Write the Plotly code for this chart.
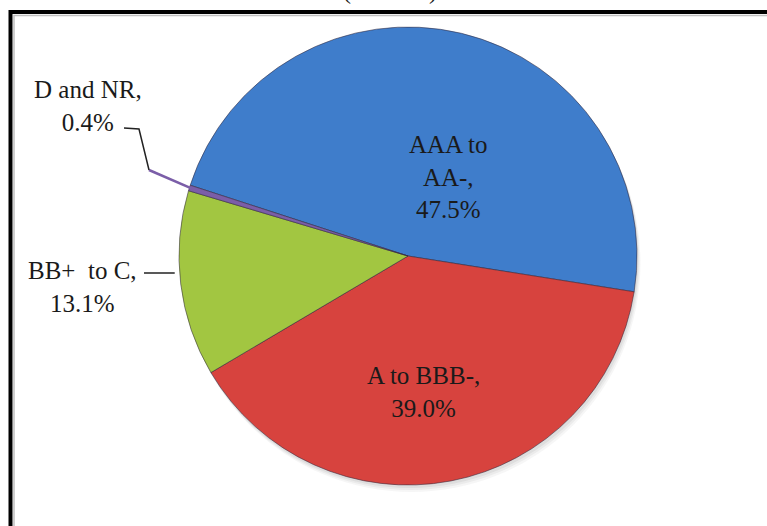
import math
import plotly.graph_objects as go

# ---- data ----
labels = ["AAA to AA-", "A to BBB-", "BB+ to C", "D and NR"]
display_labels = ["AAA to<br>AA-,", "A to BBB-,", "BB+\u00a0 to C,", "D and NR,"]
values = [47.5, 39.0, 13.1, 0.4]
colors = ["#3F7DCB", "#D7433E", "#A2C641", "#7B5EA8"]
title_text = "(Per cent)"

# ---- geometry (pixels) ----
W, H = 767, 526
cx, cy, R = 408, 256, 229
rotation = -72  # degrees clockwise from 12 o'clock


def px(x):
    return x / W


def py(y):
    return 1 - y / H


fig = go.Figure()

fig.add_trace(go.Pie(
    labels=labels,
    values=values,
    sort=False,
    direction="clockwise",
    rotation=rotation,
    marker=dict(colors=colors, line=dict(color="rgba(50,40,60,0.55)", width=1)),
    textinfo="none",
    hoverinfo="label+percent",
    showlegend=False,
    domain=dict(x=[px(cx - R), px(cx + R)], y=[py(cy + R), py(cy - R)]),
))

font = dict(family="Liberation Serif", size=25, color="#1a1a1a")
texts = [f"{d}<br>{v:.1f}%" for d, v in zip(display_labels, values)]

# label positions (pixels)
label_pos = [(448, 177), (423, 392), (82, 287), (88, 106)]
annotations = []
for t, (x, y) in zip(texts, label_pos):
    annotations.append(dict(x=px(x), y=py(y), xref="paper", yref="paper", text=t,
                            showarrow=False, font=font, align="center",
                            xanchor="center", yanchor="middle"))

annotations.append(dict(x=px(390), y=py(6), xref="paper", yref="paper", text=title_text,
                        showarrow=False, xanchor="center", yanchor="bottom",
                        font=dict(family="Liberation Serif", size=24, color="#1a1a1a")))

# slice mid-angles for leaders (computed from data)
total = sum(values)
start = 90 - rotation  # math degrees
mids = []
a = start
for v in values:
    span = 360 * v / total
    mids.append(a - span / 2)
    a -= span


def rim(angle_deg, r):
    t = math.radians(angle_deg)
    return cx + r * math.cos(t), cy - r * math.sin(t)


shapes = []
# soft shadow behind pie
for off, alpha in [(7, 0.06), (5, 0.08), (3, 0.10)]:
    shapes.append(dict(type="circle", xref="paper", yref="paper",
                       x0=px(cx - R + off / 2), x1=px(cx + R + off / 2),
                       y0=py(cy + R + off), y1=py(cy - R + off),
                       fillcolor=f"rgba(110,110,110,{alpha})", line=dict(width=0), layer="below"))

# green leader
gx, gy = rim(mids[2], R)
shapes.append(dict(type="path", xref="paper", yref="paper",
                   path=f"M {px(144)},{py(273)} L {px(gx - 6)},{py(273)}",
                   line=dict(color="#222222", width=1.5)))
# D and NR leader: purple wedge extension + black elbow
dx, dy = rim(mids[3], R - 4)
shapes.append(dict(type="path", xref="paper", yref="paper",
                   path=f"M {px(dx)},{py(dy)} L {px(149)},{py(170)}",
                   line=dict(color="#7B5EA8", width=2.5)))
shapes.append(dict(type="path", xref="paper", yref="paper",
                   path=f"M {px(149)},{py(170)} L {px(139)},{py(129)} L {px(124)},{py(128)}",
                   line=dict(color="#222222", width=1.5)))

# frame border
shapes.append(dict(type="rect", xref="paper", yref="paper",
                   x0=px(10.5), x1=px(W + 20), y0=py(H + 20), y1=py(12),
                   line=dict(color="#000000", width=4)))
shapes.append(dict(type="rect", xref="paper", yref="paper",
                   x0=px(14), x1=px(W + 20), y0=py(H + 20), y1=py(15.5),
                   line=dict(color="rgba(150,150,150,0.6)", width=1.5)))

fig.update_layout(
    width=W, height=H,
    margin=dict(l=0, r=0, t=0, b=0),
    paper_bgcolor="white",
    plot_bgcolor="white",
    annotations=annotations,
    shapes=shapes,
)

fig.write_html("out.html")
